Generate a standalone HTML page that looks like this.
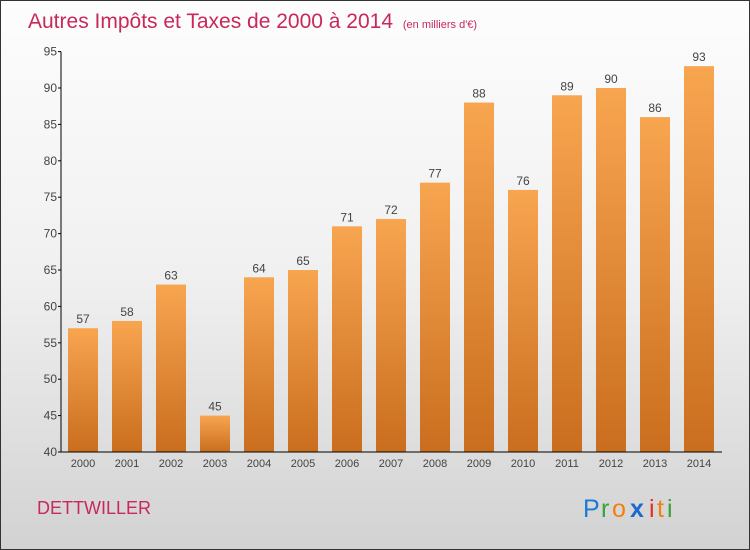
<!DOCTYPE html>
<html><head><meta charset="utf-8"><style>
body{margin:0}
#c{position:relative;width:748px;height:548px;border:1px solid #333;background:linear-gradient(#fdfdfd 0%,#f0f0f0 50%,#d2d2d2 100%);font-family:"Liberation Sans",sans-serif;overflow:hidden}
</style></head><body>
<div id="c">
<svg id="s" width="748" height="548" xmlns="http://www.w3.org/2000/svg">
<defs><linearGradient id="g" x1="0" y1="0" x2="0" y2="1"><stop offset="0" stop-color="#f8a550"/><stop offset="1" stop-color="#c96e1e"/></linearGradient></defs>
<text x="27" y="27" font-size="21" fill="#c8285a">Autres Impôts et Taxes de 2000 à 2014 <tspan font-size="11" dx="4">(en milliers d'€)</tspan></text>
<text x="36" y="513" font-size="18" fill="#c8285a">DETTWILLER</text>
<g font-size="25"><text x="582" y="516" fill="#1a7ad4">P</text><text x="600" y="516" fill="#3aa23a">r</text><text x="611" y="516" fill="#f08010">o</text><text x="629" y="516" fill="#1a6ad0" font-weight="bold">x</text><text x="648" y="516" fill="#e03020">i</text><text x="656" y="516" fill="#f08010">t</text><text x="666" y="516" fill="#3aa23a">i</text></g>
<g id="plot"></g>
</svg></div>
<script>
const years=["2000","2001","2002","2003","2004","2005","2006","2007","2008","2009","2010","2011","2012","2013","2014"];
const values=[57,58,63,45,64,65,71,72,77,88,76,89,90,86,93];
const ticks=[40,45,50,55,60,65,70,75,80,85,90,95];
const NS="http://www.w3.org/2000/svg";
const g=document.getElementById('plot');
const y=v=>451-(v-40)*7.28;
const x=i=>82+i*44;
function mk(t,a,txt){const e=document.createElementNS(NS,t);for(const k in a)e.setAttribute(k,a[k]);if(txt!==undefined)e.textContent=txt;g.appendChild(e);return e;}
values.forEach((v,i)=>{
const r=mk('rect',{x:x(i)-15,y:y(v),width:30,height:451-y(v),fill:'url(#g)'});


const t=mk('text',{x:x(i),y:y(v)-5,'font-size':12,fill:'#444','text-anchor':'middle'},String(v));


const xl=mk('text',{x:x(i),y:466,'font-size':11,fill:'#444','text-anchor':'middle'},years[i]);


});
ticks.forEach(tk=>{
const l=mk('line',{x1:57,x2:60,y1:y(tk),y2:y(tk),stroke:'#000'});


const t=mk('text',{x:56,y:y(tk)+4,'font-size':12,fill:'#444','text-anchor':'end'},String(tk));


});
const ya=mk('line',{x1:60,x2:60,y1:y(95),y2:451,stroke:'#000'});


const xa=mk('line',{x1:60,x2:721,y1:451,y2:451,stroke:'#000'});


</script>
</body></html>
